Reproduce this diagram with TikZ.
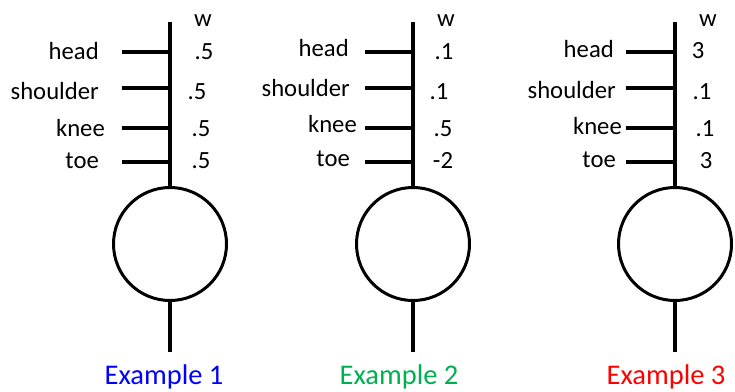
\documentclass[tikz,border=0pt]{standalone}
\usepackage{fontspec}
\setmainfont{Carlito}
\usetikzlibrary{positioning}
\definecolor{exblue}{RGB}{0,0,255}
\definecolor{exgreen}{RGB}{0,176,80}
\definecolor{exred}{RGB}{255,0,0}
\begin{document}
\begin{tikzpicture}[x=1pt,y=-1pt,
    stem/.style={line width=4pt},
    neuron/.style={circle,draw,line width=3pt,minimum size=113pt,inner sep=0pt},
    txt/.style={font=\fontsize{24.7}{28}\selectfont,inner sep=0pt,anchor=base},
    inp/.style={txt,anchor=base east},
    exlabel/.style={font=\fontsize{28.5}{32}\selectfont,inner sep=0pt,anchor=base}]
  \useasboundingbox (0,0) rectangle (735,391);

  \coordinate (top1) at (170,22);
  \node[neuron] (n1) at (170,244) {};
  \coordinate (bot1) at (170,352);
  \draw[stem] (top1) -- (n1.north);
  \draw[stem] (n1.south) -- (bot1);
  \coordinate (head1) at (122,52);
  \coordinate (shoulder1) at (122,88);
  \coordinate (knee1) at (122,128);
  \coordinate (toe1) at (122,162);
  \draw[stem] (head1) -- (head1 -| top1);
  \draw[stem] (shoulder1) -- (shoulder1 -| top1);
  \draw[stem] (knee1) -- (knee1 -| top1);
  \draw[stem] (toe1) -- (toe1 -| top1);
  \node[inp] (lhead1) at (99,59) {head};
  \node[inp] (lshoulder1) at (99,99) {shoulder};
  \node[inp] (lknee1) at (105,136) {knee};
  \node[inp] (ltoe1) at (99,168) {toe};
  \node[txt] (w1) at (203,26) {w};
  \node[txt] (vhead1) at (204,59) {.5};
  \node[txt] (vshoulder1) at (197,99) {.5};
  \node[txt] (vknee1) at (201,136) {.5};
  \node[txt] (vtoe1) at (201,168) {.5};
  \node[exlabel,text=exblue] (ex1) at (164,384) {Example 1};

  \coordinate (top2) at (413,22);
  \node[neuron] (n2) at (413,244) {};
  \coordinate (bot2) at (413,352);
  \draw[stem] (top2) -- (n2.north);
  \draw[stem] (n2.south) -- (bot2);
  \coordinate (head2) at (365,52);
  \coordinate (shoulder2) at (365,88);
  \coordinate (knee2) at (365,128);
  \coordinate (toe2) at (365,162);
  \draw[stem] (head2) -- (head2 -| top2);
  \draw[stem] (shoulder2) -- (shoulder2 -| top2);
  \draw[stem] (knee2) -- (knee2 -| top2);
  \draw[stem] (toe2) -- (toe2 -| top2);
  \node[inp] (lhead2) at (349,56) {head};
  \node[inp] (lshoulder2) at (350,96) {shoulder};
  \node[inp] (lknee2) at (357,132) {knee};
  \node[inp] (ltoe2) at (350,166) {toe};
  \node[txt] (w2) at (446,26) {w};
  \node[txt] (vhead2) at (444,59) {.1};
  \node[txt] (vshoulder2) at (439,99) {.1};
  \node[txt] (vknee2) at (443,136) {.5};
  \node[txt] (vtoe2) at (443,168) {-2};
  \node[exlabel,text=exgreen] (ex2) at (399,384) {Example 2};

  \coordinate (top3) at (675,22);
  \node[neuron] (n3) at (675,244) {};
  \coordinate (bot3) at (675,352);
  \draw[stem] (top3) -- (n3.north);
  \draw[stem] (n3.south) -- (bot3);
  \coordinate (head3) at (626,52);
  \coordinate (shoulder3) at (626,88);
  \coordinate (knee3) at (626,128);
  \coordinate (toe3) at (626,162);
  \draw[stem] (head3) -- (head3 -| top3);
  \draw[stem] (shoulder3) -- (shoulder3 -| top3);
  \draw[stem] (knee3) -- (knee3 -| top3);
  \draw[stem] (toe3) -- (toe3 -| top3);
  \node[inp] (lhead3) at (614,57) {head};
  \node[inp] (lshoulder3) at (616,98) {shoulder};
  \node[inp] (lknee3) at (622,134) {knee};
  \node[inp] (ltoe3) at (616,167) {toe};
  \node[txt] (w3) at (708,26) {w};
  \node[txt] (vhead3) at (698,58) {3};
  \node[txt] (vshoulder3) at (702,99) {.1};
  \node[txt] (vknee3) at (705,136) {.1};
  \node[txt] (vtoe3) at (706,168) {3};
  \node[exlabel,text=exred] (ex3) at (666,384) {Example 3};
\end{tikzpicture}
\end{document}
